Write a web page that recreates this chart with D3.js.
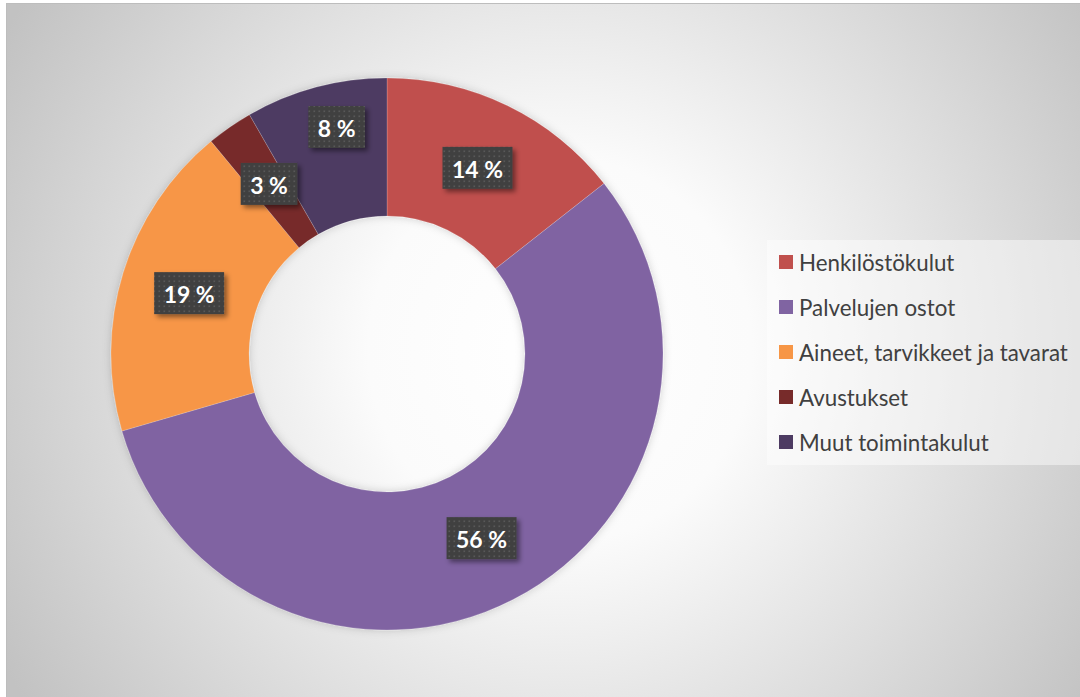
<!DOCTYPE html>
<html><head><meta charset="utf-8">
<script src="https://cdn.jsdelivr.net/npm/d3@7"></script>
<style>html,body{margin:0;padding:0;background:#fff;}svg{display:block;}</style>
</head><body>
<svg id="chart" width="1080" height="697"></svg>
<script>
const categories = ["Henkilöstökulut", "Palvelujen ostot", "Aineet, tarvikkeet ja tavarat", "Avustukset", "Muut toimintakulut"];
const values = [14.4, 56.1, 18.5, 2.7, 8.3];
const colors = ["#c0504d", "#8064a2", "#f79646", "#772b2a", "#4d3b62"];

const svg = d3.select("#chart");
const defs = svg.append("defs");
const W = 1080, H = 697;

const rg = defs.append("radialGradient").attr("id","bg").attr("gradientUnits","userSpaceOnUse")
  .attr("cx",560).attr("cy",350).attr("r",640);
rg.append("stop").attr("offset",0).attr("stop-color","#ffffff");
rg.append("stop").attr("offset",0.3).attr("stop-color","#fbfbfb");
rg.append("stop").attr("offset",1).attr("stop-color","#c2c2c2");

const pat = defs.append("pattern").attr("id","dots").attr("patternUnits","userSpaceOnUse")
  .attr("width",5).attr("height",5);
pat.append("rect").attr("width",5).attr("height",5).attr("fill","#404040");
pat.append("rect").attr("x",1.5).attr("y",1.5).attr("width",1.6).attr("height",1.6).attr("fill","#595959");

const sh = defs.append("filter").attr("id","shadow").attr("x","-30%").attr("y","-30%").attr("width","170%").attr("height","170%");
sh.append("feDropShadow").attr("dx",3).attr("dy",3).attr("stdDeviation",2.5).attr("flood-color","#000").attr("flood-opacity",0.45);

const sh2 = defs.append("filter").attr("id","dshadow").attr("x","-10%").attr("y","-10%").attr("width","120%").attr("height","120%");
sh2.append("feDropShadow").attr("dx",0).attr("dy",0).attr("stdDeviation",4).attr("flood-color","#000").attr("flood-opacity",0.18);

// chart area
svg.append("rect").attr("x",6.5).attr("y",3.5).attr("width",W).attr("height",H)
  .attr("fill","url(#bg)").attr("stroke","#bdbdbd").attr("stroke-width",1);

const cx = 387, cy = 354, R = 276, r0 = 138;
const pie = d3.pie().sort(null).value(d => d);
const arcs = pie(values);
const arc = d3.arc().innerRadius(r0).outerRadius(R);

const g = svg.append("g").attr("transform",`translate(${cx},${cy})`);
g.append("g").attr("filter","url(#dshadow)").selectAll("path").data(arcs).join("path")
  .attr("d",arc).attr("fill",(d,i)=>colors[i])
  .attr("stroke","rgba(255,255,255,0.35)").attr("stroke-width",0.5);

// data labels
const total = d3.sum(values);
const fmt = v => Math.round(v/total*100) + " %";
const lab = g.append("g");
const labelFont = "Lato, 'Open Sans', sans-serif";
const lprobe = lab.append("text").attr("font-family",labelFont).attr("font-weight","bold").attr("font-size",20).text("56 %");
const lfsz = 20 * 51 / lprobe.node().getComputedTextLength();
lprobe.remove();
arcs.forEach((d,i) => {
  let [x,y] = arc.centroid(d);
  if (i === 4) { x += 3; y -= 27; }
  const t = lab.append("text").text(fmt(d.data))
    .attr("font-family",labelFont).attr("font-weight","bold").attr("font-size",lfsz)
    .attr("fill","#fff").attr("text-anchor","middle").attr("dominant-baseline","central")
    .attr("x",x).attr("y",y+1);
  const w = t.node().getComputedTextLength();
  const bw = w + 19, bh = 42;
  lab.insert("rect", () => t.node()).attr("x",x-bw/2).attr("y",y-bh/2).attr("width",bw).attr("height",bh)
    .attr("fill","url(#dots)").attr("filter","url(#shadow)");
});

// legend
const lg = svg.append("g");
lg.append("rect").attr("x",767).attr("y",240).attr("width",320).attr("height",225)
  .attr("fill","#ffffff").attr("fill-opacity",0.45);
const rowY = d3.scalePoint().domain(categories).range([262, 442]);
const legendFont = "Lato, 'Open Sans', sans-serif";
const probe = lg.append("text").attr("font-family",legendFont).attr("font-size",20).text(categories[2]);
const pw = probe.node().getComputedTextLength();
probe.remove();
const lfs = 20 * 269 / pw;
categories.forEach((c,i) => {
  const y = rowY(c);
  lg.append("rect").attr("x",779).attr("y",y-7).attr("width",14).attr("height",14).attr("fill",colors[i]);
  lg.append("text").attr("x",799).attr("y",y).attr("dominant-baseline","central")
    .attr("font-family",legendFont).attr("font-size",lfs).attr("fill","#404040").text(c);
});
</script>
</body></html>
